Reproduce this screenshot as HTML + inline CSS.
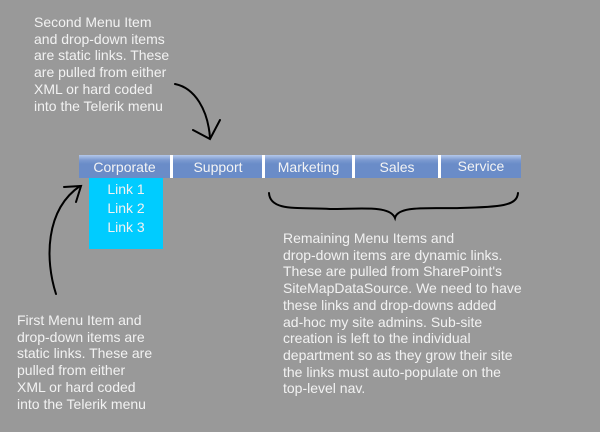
<!DOCTYPE html>
<html><head><meta charset="utf-8"><style>
body{margin:0;width:600px;height:432px;background:#999999;position:relative;overflow:hidden;font-family:"Liberation Sans",Arial,sans-serif;color:#f2f2f2}
.t{position:absolute;font-size:14px;line-height:16.7px;white-space:pre}
.bar{position:absolute;left:79px;top:155px;width:442px;height:23px;background:linear-gradient(#b4c8ea 0,#7c9ad0 5px,#6a8cc8 9px,#6a8cc8 100%)}
.it{position:absolute;top:0;height:23px;line-height:24px;text-align:center;font-size:14px;color:#f4f4f4}
.div{position:absolute;top:0;width:3px;height:23px;background:#fff}
.dd{position:absolute;left:89px;top:178px;width:74px;height:71px;background:#00ccff;text-align:center;font-size:14px;line-height:19px;padding-top:2px;box-sizing:border-box}
</style></head><body>
<div class="t" style="left:34px;top:14px">Second Menu Item
and drop-down items
are static links. These
are pulled from either
XML or hard coded
into the Telerik menu</div>
<div class="bar">
<div class="it" style="left:0;width:91px">Corporate</div>
<div class="div" style="left:91px"></div>
<div class="it" style="left:94px;width:90px">Support</div>
<div class="div" style="left:183px"></div>
<div class="it" style="left:186px;width:87px">Marketing</div>
<div class="div" style="left:273px"></div>
<div class="it" style="left:276px;width:84px">Sales</div>
<div class="div" style="left:359px"></div>
<div class="it" style="left:362px;width:80px;line-height:22px">Service</div>
</div>
<div class="dd">Link 1<br>Link 2<br>Link 3</div>
<svg width="600" height="432" style="position:absolute;left:0;top:0" fill="none" stroke="#000" stroke-width="2" stroke-linecap="round">
<path d="M175 84 C195 88 208 110 210 138"/>
<path d="M193 130 L210 139 L220 120"/>
<path d="M56 294 C45 260 45 210 80 186"/>
<path d="M64 187 L81 186 L76 202"/>
<path d="M269 193 C270 212 300 207 330 209 C360 209 390 205 395 218 C398 205 430 209 460 208 C500 207 517 206 518 193"/>
</svg>
<div class="t" style="left:283px;top:230px">Remaining Menu Items and
drop-down items are dynamic links.
These are pulled from SharePoint's
SiteMapDataSource. We need to have
these links and drop-downs added
ad-hoc my site admins. Sub-site
creation is left to the individual
department so as they grow their site
the links must auto-populate on the
top-level nav.</div>
<div class="t" style="left:17px;top:312px">First Menu Item and
drop-down items are
static links. These are
pulled from either
XML or hard coded
into the Telerik menu</div>
</body></html>
